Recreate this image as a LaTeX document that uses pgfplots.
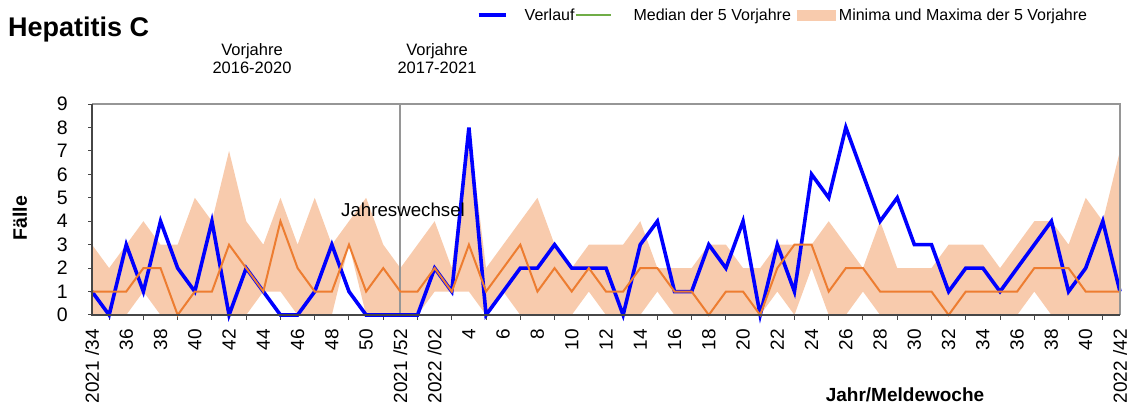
\documentclass[border=0pt]{standalone}
\usepackage{fontspec}
\setmainfont{Liberation Sans}
\usepackage{pgfplots}
\pgfplotsset{compat=1.18}
\usepackage{pgfplotstable}
\usepgfplotslibrary{fillbetween}
\definecolor{verlauf}{RGB}{0,0,255}
\definecolor{median}{RGB}{237,125,49}
\definecolor{band}{RGB}{248,203,173}
\definecolor{legmed}{RGB}{112,173,71}
\definecolor{frame}{RGB}{150,150,150}
\definecolor{axdark}{RGB}{70,70,70}

\pgfplotstableread{
i v m lo hi
0 1 1 0 3
1 0 1 0 2
2 3 1 0 3
3 1 2 1 4
4 4 2 0 3
5 2 0 0 3
6 1 1 0 5
7 4 1 0 4
8 0 3 0 7
9 2 2 0 4
10 1 1 1 3
11 0 4 1 5
12 0 2 0 3
13 1 1 0 5
14 3 1 0 3
15 1 3 3 4
16 0 1 0 5
17 0 2 0 3
18 0 1 0 2
19 0 1 0 3
20 2 2 1 4
21 1 1 1 2
22 8 3 1 8
23 0 1 0 2
24 1 2 1 3
25 2 3 0 4
26 2 1 0 5
27 3 2 0 3
28 2 1 0 2
29 2 2 1 3
30 2 1 0 3
31 0 1 0 3
32 3 2 0 4
33 4 2 1 2
34 1 1 0 2
35 1 1 0 2
36 3 0 0 3
37 2 1 0 3
38 4 1 0 2
39 0 0 0 2
40 3 2 1 3
41 1 3 0 3
42 6 3 2 3
43 5 1 0 4
44 8 2 0 3
45 6 2 1 2
46 4 1 0 4
47 5 1 0 2
48 3 1 0 2
49 3 1 0 2
50 1 0 0 3
51 2 1 0 3
52 2 1 0 3
53 1 1 0 2
54 2 1 0 3
55 3 2 1 4
56 4 2 0 4
57 1 2 0 3
58 2 1 0 5
59 4 1 0 4
60 1 1 0 7
}\data

\pgfplotstableread{
i y
18 0
18 9
}\jwline

\begin{document}
\begin{tikzpicture}[x=1pt,y=1pt]
\begin{axis}[
  at={(92pt,94pt)}, anchor=south west,
  scale only axis, width=1028pt, height=211pt,
  xmin=0, xmax=60, ymin=0, ymax=9,
  clip=false,
  axis line style={draw=none},
  tick pos=left, tick align=outside,
  xtick={0,2,...,60},
  xticklabels={2021 /34,36,38,40,42,44,46,48,50,2021 /52,2022 /02,4,6,8,10,12,14,16,18,20,22,24,26,28,30,32,34,36,38,40,2022 /42},
  minor xtick={1,3,...,59},
  ytick={0,...,9},
  major tick length=4pt, minor tick length=5pt,
  every major x tick/.append style={draw=none},
  every tick/.append style={axdark, line width=1pt},
  /pgf/number format/assume math mode=true,
  yticklabel style={font=\fontsize{19.5}{20}\selectfont, anchor=east, inner ysep=0pt, inner xsep=20pt},
  xticklabel style={font=\fontsize{19}{20}\selectfont, rotate=90, anchor=east, inner ysep=0pt, inner xsep=10pt},
  legend style={at={(0.3745,1.4218)}, anchor=west, draw=none, fill=none,
    inner sep=0pt, outer sep=0pt, font=\fontsize{16}{18}\selectfont,
    nodes={inner sep=0pt}, /tikz/column sep=0pt},
  legend columns=3, legend cell align=left,
]
\addplot[draw=none, name path=up, forget plot] table[x=i, y=hi] {\data};
\addplot[draw=none, name path=lo, forget plot] table[x=i, y=lo] {\data};
\addplot[band, draw=none, forget plot] fill between[of=up and lo];
\addplot[frame, line width=2pt, forget plot] table[x=i, y=y] {\jwline};
\addplot[verlauf, line width=3.6pt, forget plot] table[x=i, y=v] {\data};
\addplot[median, line width=2pt, forget plot] table[x=i, y=m] {\data};
\draw[frame, line width=2pt] (rel axis cs:0,1) -- (rel axis cs:1,1) -- (rel axis cs:1,0);
\draw[axdark, line width=1.3pt] (rel axis cs:0,1) -- (rel axis cs:0,0) -- (rel axis cs:1,0);
\addlegendimage{legend image code/.code={\draw[verlauf, line width=3.5pt] (0pt,0pt) -- (27pt,0pt); \node[inner sep=0pt, minimum size=0pt, draw=none] at (46pt,0pt) {};}}
\addlegendentry{Verlauf}
\addlegendimage{legend image code/.code={\draw[legmed, line width=2pt] (0pt,0pt) -- (35pt,0pt); \node[inner sep=0pt, minimum size=0pt, draw=none] at (58pt,0pt) {};}}
\addlegendentry{Median der 5 Vorjahre}
\addlegendimage{legend image code/.code={\fill[band] (6pt,-5pt) rectangle (44pt,5pt); \node[inner sep=0pt, minimum size=0pt, draw=none] at (0pt,0pt) {}; \node[inner sep=0pt, minimum size=0pt, draw=none] at (48pt,0pt) {};}}
\addlegendentry{Minima und Maxima der 5 Vorjahre}
\end{axis}
\node[anchor=base west, font=\fontsize{27}{30}\selectfont\bfseries, inner sep=0pt] at (8,372) {Hepatitis C};
\node[align=center, font=\fontsize{16.5}{18}\selectfont, inner sep=0pt, anchor=base] at (252,335) {Vorjahre\\2016-2020};
\node[align=center, font=\fontsize{16.5}{18}\selectfont, inner sep=0pt, anchor=base] at (437,335) {Vorjahre\\2017-2021};
\node[anchor=base, font=\fontsize{18.7}{20}\selectfont, inner sep=0pt] at (403,192) {Jahreswechsel};
\node[rotate=90, font=\fontsize{19.5}{20}\selectfont\bfseries, inner sep=0pt] at (20,191) {Fälle};
\node[anchor=base, font=\fontsize{19}{20}\selectfont\bfseries, inner sep=0pt] at (905,7) {Jahr/Meldewoche};
\pgfresetboundingbox
\useasboundingbox (0,0) rectangle (1132,409);
\end{tikzpicture}
\end{document}
